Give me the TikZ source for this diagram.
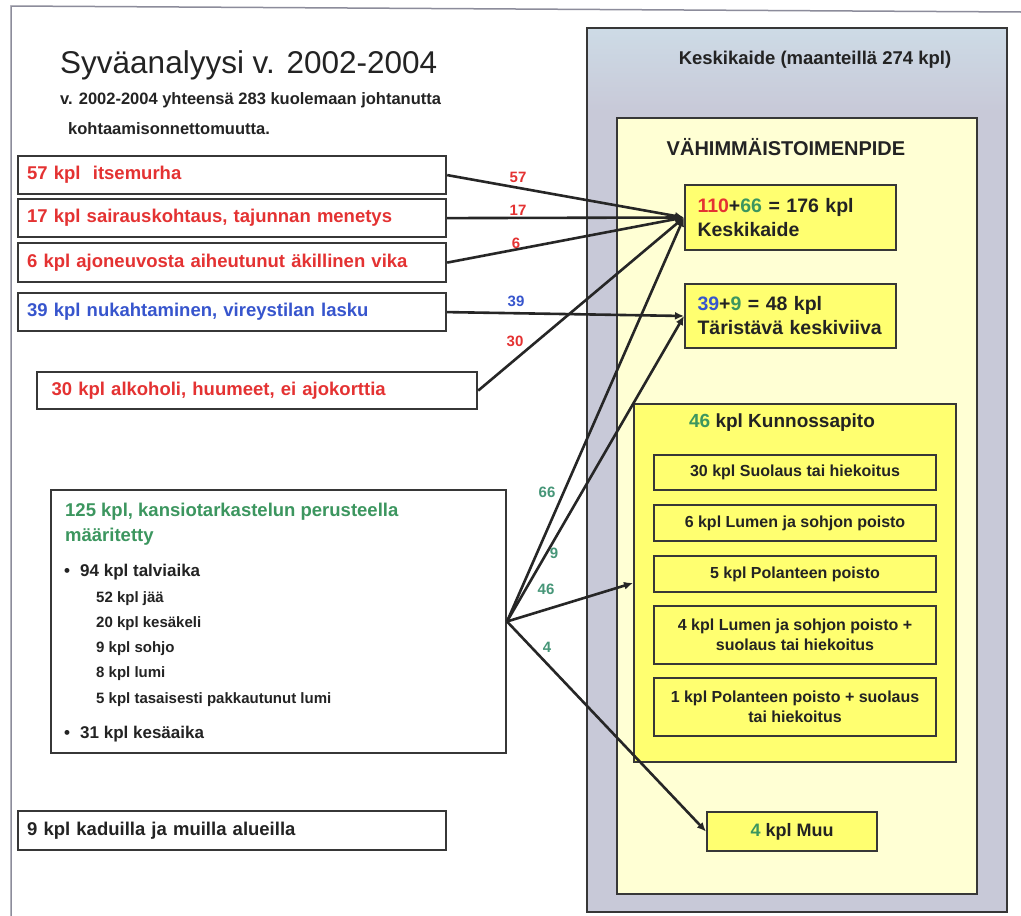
\documentclass[tikz,border=0pt]{standalone}
\usepackage{fontspec}
\setmainfont{Liberation Sans}
\usetikzlibrary{arrows.meta}
\definecolor{txtred}{RGB}{228,50,50}
\definecolor{txtblue}{RGB}{55,85,205}
\definecolor{txtgreen}{RGB}{60,150,95}
\definecolor{lblgreen}{RGB}{70,150,120}
\definecolor{grayfill}{RGB}{200,201,216}
\definecolor{bandfill}{RGB}{205,219,230}
\definecolor{paleyellow}{RGB}{255,255,212}
\definecolor{boxyellow}{RGB}{255,255,112}
\definecolor{edge}{RGB}{55,55,55}
\definecolor{framecol}{RGB}{140,140,155}
\definecolor{ink}{RGB}{35,35,35}
\newcommand{\fsz}[2]{\fontsize{#1}{#2}\selectfont}
\begin{document}
\begin{tikzpicture}[x=1pt,y=-1pt,
  lbox/.style={draw=edge,line width=2.2pt,fill=white,anchor=north west,align=left,
    inner xsep=9pt,inner ysep=0pt,minimum height=38pt,text width=#1,
    font=\fsz{18.5}{22}\bfseries},
  bigbox/.style={draw=edge,line width=2pt,fill=white,anchor=north west,inner sep=0pt},
  ybox/.style={draw=edge,line width=2pt,fill=boxyellow,anchor=north west,inner sep=0pt,text=ink},
  sbox/.style={ybox,minimum width=282pt,align=center,font=\fsz{16}{20}\bfseries},
  abox/.style={ybox,minimum width=211pt,text width=186pt,inner xsep=12.5pt,align=left,font=\fsz{19.5}{24}\bfseries},
  plain/.style={anchor=base west,inner sep=0pt,text=ink},
  lbl/.style={inner sep=0pt,font=\fsz{15}{17}\bfseries},
  conn/.style={draw=black!85,line width=2.6pt,-{Latex[length=9pt,width=8pt]}}]
\useasboundingbox (0,0) rectangle (1021,916);
\fill[white] (0,0) rectangle (1021,916);
\draw[framecol,line width=1.5pt] (11,916) -- (11,6) -- (1021,12);

% title
\node[plain,font=\fsz{31.5}{36}] (title) at (60,73) {Syväanalyysi v. 2002-2004};
\node[plain,font=\fsz{16.5}{19}\bfseries] (sub1) at (60,104) {v. 2002-2004 yhteensä 283 kuolemaan johtanutta};
\node[plain,font=\fsz{16.5}{19}\bfseries] (sub2) at (68,134) {kohtaamisonnettomuutta.};

% left boxes
\node[lbox=410pt,text=txtred] (b1) at (17,155) {57 kpl\ \ itsemurha};
\node[lbox=410pt,text=txtred] (b2) at (17,198) {17 kpl sairauskohtaus, tajunnan menetys};
\node[lbox=410pt,text=txtred,minimum height=39pt] (b3) at (17,242) {6 kpl ajoneuvosta aiheutunut äkillinen vika};
\node[lbox=410pt,text=txtblue] (b4) at (17,292) {39 kpl nukahtaminen, vireystilan lasku};
\node[lbox=411pt,text=txtred,inner xsep=14.5pt,minimum height=37pt] (b5) at (36,371) {30 kpl alkoholi, huumeet, ei ajokorttia};
\node[lbox=410pt,text=ink,minimum height=39pt] (b9) at (17,810) {9 kpl kaduilla ja muilla alueilla};

% big box
\node[bigbox,minimum width=455pt,minimum height=263pt] (big) at (50,489) {};
\node[plain,text=txtgreen,font=\fsz{18.5}{22}\bfseries] (t1) at (65,516) {125 kpl, kansiotarkastelun perusteella};
\node[plain,text=txtgreen,font=\fsz{18.5}{22}\bfseries] (t2) at (65,541) {määritetty};
\node[plain,font=\fsz{17}{20}\bfseries] (t3) at (64,576) {\makebox[16pt][l]{•}94 kpl talviaika};
\node[plain,font=\fsz{15}{18}\bfseries] (t4) at (96,602) {52 kpl jää};
\node[plain,font=\fsz{15}{18}\bfseries] (t5) at (96,627) {20 kpl kesäkeli};
\node[plain,font=\fsz{15}{18}\bfseries] (t6) at (96,652) {9 kpl sohjo};
\node[plain,font=\fsz{15}{18}\bfseries] (t7) at (96,677) {8 kpl lumi};
\node[plain,font=\fsz{15}{18}\bfseries] (t8) at (96,703) {5 kpl tasaisesti pakkautunut lumi};
\node[plain,font=\fsz{17}{20}\bfseries] (t9) at (64,738) {\makebox[16pt][l]{•}31 kpl kesäaika};

% right region
\node[fill=grayfill,anchor=north west,minimum width=420pt,minimum height=884pt,inner sep=0pt] (outer) at (587,28) {};
\shade[top color=bandfill,bottom color=grayfill] (outer.north west) rectangle ([yshift=-84pt]outer.north east);
\draw[edge,line width=2pt] (outer.north west) rectangle (outer.south east);
\node[text=ink,font=\fsz{18.5}{22}\bfseries,inner sep=0pt] (otitle) at (815,60) {Keskikaide (maanteillä 274 kpl)};
\node[draw=edge,line width=2pt,fill=paleyellow,anchor=north west,minimum width=360pt,minimum height=776pt,inner sep=0pt] (inner) at (616,117) {};
\node[text=ink,font=\fsz{20}{24}\bfseries,inner sep=0pt] (vtitle) at (786,147) {VÄHIMMÄISTOIMENPIDE};

\node[abox,minimum height=65pt] (A) at (684,184)
  {\textcolor{txtred}{110}+\textcolor{txtgreen}{66} = 176 kpl\\Keskikaide};
\node[abox,minimum height=64pt] (B) at (684,283)
  {\textcolor{txtblue}{39}+\textcolor{txtgreen}{9} = 48 kpl\\Täristävä keskiviiva};

\node[ybox,minimum width=322pt,minimum height=358pt] (K) at (633,403) {};
\node[text=ink,font=\fsz{19}{22}\bfseries,inner sep=0pt] (ktitle) at (782,423) {\textcolor{txtgreen}{46} kpl Kunnossapito};
\node[sbox,minimum height=35pt] (s1) at (653,454) {30 kpl Suolaus tai hiekoitus};
\node[sbox,minimum height=36pt] (s2) at (653,504) {6 kpl Lumen ja sohjon poisto};
\node[sbox,minimum height=36pt] (s3) at (653,555) {5 kpl Polanteen poisto};
\node[sbox,minimum height=58pt] (s4) at (653,605) {4 kpl Lumen ja sohjon poisto +\\suolaus tai hiekoitus};
\node[sbox,minimum height=58pt] (s5) at (653,677) {1 kpl Polanteen poisto + suolaus\\tai hiekoitus};

\node[ybox,minimum width=170pt,minimum height=39pt,font=\fsz{18}{22}\bfseries] (muu) at (706,811) {\textcolor{txtgreen}{4} kpl Muu};

% connectors
\draw[conn] (b1.east) -- (A.west);
\draw[conn] (b2.east) -- (A.west);
\draw[conn] (b3.east) -- (A.west);
\draw[conn] (b5.east) -- (A.west);
\draw[conn] (b4.east) -- (B.west);
\draw[conn] (big.east) -- (A.west);
\draw[conn] (big.east) -- (B.west);
\draw[conn] (big.east) -- (K.west);
\draw[conn] (big.east) -- (muu.west);

% labels
\node[lbl,text=txtred] (l57) at (518,177) {57};
\node[lbl,text=txtred] (l17) at (518,210) {17};
\node[lbl,text=txtred] (l6) at (516,243) {6};
\node[lbl,text=txtblue] (l39) at (516,301) {39};
\node[lbl,text=txtred] (l30) at (515,341) {30};
\node[lbl,text=lblgreen] (l66) at (547,492) {66};
\node[lbl,text=lblgreen] (l9) at (554,553) {9};
\node[lbl,text=lblgreen] (l46) at (546,589) {46};
\node[lbl,text=lblgreen] (l4) at (547,647) {4};
\end{tikzpicture}
\end{document}
